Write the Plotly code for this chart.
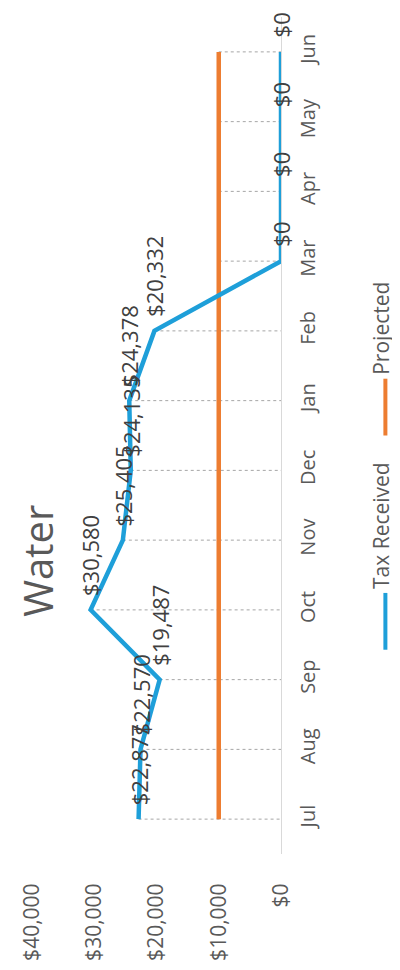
import plotly.graph_objects as go

# Water tax chart (the source is a scanned Excel chart turned on its side)
MONTHS = ["Jul", "Aug", "Sep", "Oct", "Nov", "Dec", "Jan", "Feb", "Mar", "Apr", "May", "Jun"]
TAX_RECEIVED = [22877, 22570, 19487, 30580, 25405, 24135, 24378, 20332, 0, 0, 0, 0]
PROJECTED = [10000] * 12
VALUE_TICKS = [0, 10000, 20000, 30000, 40000]

BLUE = "#1E9FD9"
ORANGE = "#ED7D31"
GREY_TEXT = "#595959"
FONT = "Open Sans"

# the page body keeps its default 8px margin, so the figure starts at (8, 8)
OFF = 8
W, H = 400 - OFF, 970 - OFF
# plot area in page pixels
PX0, PX1, PY0, PY1 = 21, 281, 17, 857


def px_to_paper(px, py):
    """page pixel -> paper coords of the plot area"""
    return (px - PX0) / (PX1 - PX0), (PY1 - py) / (PY1 - PY0)


# drop lines from the highest series value down to the axis
drop_x, drop_y = [], []
for m, t, p in zip(MONTHS, TAX_RECEIVED, PROJECTED):
    drop_x += [max(t, p), 0, None]
    drop_y += [m, m, None]

fig = go.Figure()
fig.add_trace(go.Scatter(x=drop_x, y=drop_y, mode="lines", hoverinfo="skip",
                         line=dict(color="#a6a6a6", width=1, dash="dot"), showlegend=False))
fig.add_trace(go.Scatter(x=PROJECTED, y=MONTHS, mode="lines", name="Projected",
                         line=dict(color=ORANGE, width=4.5), showlegend=False))
fig.add_trace(go.Scatter(x=TAX_RECEIVED, y=MONTHS, mode="lines", name="Tax Received",
                         line=dict(color=BLUE, width=4.5), showlegend=False))

# data labels (rotated, sit "right" of each point in the unrotated chart)
for m, v in zip(MONTHS, TAX_RECEIVED):
    fig.add_annotation(x=v, y=m, text=f"${v:,}", showarrow=False, textangle=-90,
                       xanchor="center", yanchor="bottom", yshift=12,
                       font=dict(family=FONT, size=22, color="#404040"))

# title
tx, ty = px_to_paper(26, 563)
fig.add_annotation(x=tx, y=ty, xref="paper", yref="paper", text="Water", showarrow=False,
                   textangle=-90, xanchor="center", yanchor="middle",
                   font=dict(family=FONT, size=40, color=GREY_TEXT))

# legend, drawn by hand so it can be rotated like the rest
for name, color, y0, y1 in [("Tax Received", BLUE, 652, 595), ("Projected", ORANGE, 437, 380)]:
    lx, ly0 = px_to_paper(390, y0)
    _, ly1 = px_to_paper(390, y1)
    fig.add_shape(type="line", xref="paper", yref="paper", x0=lx, x1=lx, y0=ly0, y1=ly1,
                  line=dict(color=color, width=4))
    tlx, ty = px_to_paper(386, y1 - 2)
    fig.add_annotation(x=tlx, y=ty, xref="paper", yref="paper", text=name, showarrow=False,
                       textangle=-90, xanchor="center", yanchor="bottom",
                       font=dict(family=FONT, size=21, color=GREY_TEXT))

fig.update_layout(
    width=W, height=H,
    margin=dict(l=PX0 - OFF, r=400 - PX1, t=PY0 - OFF, b=970 - PY1),
    paper_bgcolor="white", plot_bgcolor="white",
    showlegend=False,
    xaxis=dict(range=[40000, 0], tickvals=VALUE_TICKS, tickformat="$,", tickangle=-90,
               showgrid=False, zeroline=False, showline=False, ticklabeloverflow="allow",
               ticks="outside", ticklen=20, tickcolor="rgba(0,0,0,0)",
               tickfont=dict(family=FONT, size=21, color=GREY_TEXT)),
    yaxis=dict(type="category", categoryorder="array", categoryarray=MONTHS,
               range=[-0.5, 11.5], side="right", tickangle=-90,
               showgrid=False, zeroline=False, showline=True, linecolor="#d9d9d9", linewidth=1,
               ticks="outside", ticklen=9, tickcolor="rgba(0,0,0,0)",
               tickfont=dict(family=FONT, size=20, color=GREY_TEXT)),
)

fig.write_html("out.html")
